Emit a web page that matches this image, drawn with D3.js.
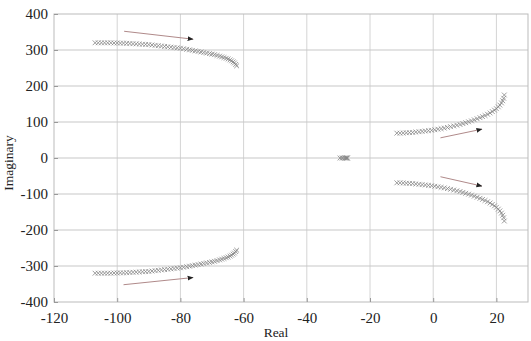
<!DOCTYPE html>
<html>
<head>
<meta charset="utf-8">
<script src="https://cdn.jsdelivr.net/npm/d3@7"></script>
<style>
  body { margin: 0; background: #fff; }
  text { font-family: "Liberation Serif", "DejaVu Serif", serif; fill: #333; }
</style>
</head>
<body>
<svg id="svg" width="531" height="341"></svg>
<script>
// root locus branches
var leftReal = [-107, -106, -105, -104, -103, -102, -101, -100, -99, -98, -97, -96, -95, -94, -93, -92,
  -91, -90, -89, -88, -87, -86, -85, -84, -83, -82, -81, -80, -79, -78, -77.1, -76.2, -75.3, -74.4,
  -73.5, -72.6, -71.7, -70.8, -70, -69.2, -68.4, -67.6, -66.9, -66.2, -65.5, -64.9, -64.3, -63.8,
  -63.3, -62.9, -62.5, -62.2]
var leftImag = [320, 320, 320, 320, 320, 320, 319.5, 319.5, 319, 319, 318.5, 318, 317.5, 317, 316.5, 316,
  315.5, 315, 314, 313, 312, 311, 310, 309, 308, 307, 306, 305, 303.5, 302, 300.5, 299, 297.5, 296,
  294.5, 293, 291.5, 290, 288.5, 287, 285, 283, 281, 279, 277, 275, 272.5, 270, 267, 264, 260, 256]

var rightReal = [-11.5, -10.5, -9.5, -8.5, -7.5, -6.5, -5.5, -4.5, -3.5, -2.5, -1.5, -0.5, 0.5, 1.5,
  2.5, 3.5, 4.5, 5.5, 6.5, 7.5, 8.5, 9.4, 10.3, 11.2, 12.1, 13, 13.9, 14.8, 15.6, 16.4, 17.2, 18,
  18.7, 19.4, 20, 20.6, 21.1, 21.6, 22, 22.3, 22.5]
var rightImag = [69, 69, 69.5, 70, 70.5, 71, 72, 73, 74, 75, 76, 77, 78.5, 80, 81.5, 83, 85, 87, 89,
  91, 93, 95.5, 98, 100.5, 103, 106, 109, 112, 115, 118, 121.5, 125, 129, 133, 137, 142, 147, 153,
  159, 166, 175]

var poleReal = [-29.5, -28.9, -28.4, -28, -27.7, -27.5, -27.3, -27.1]
var poleImag = [0, 0, 0, 0, 0, 0, 0, 0]

// arrows: [x0, y0, x1, y1]
var arrows = [
  [-97.8, 352, -76, 330],
  [-98, -352, -76, -332],
  [2.3, 56, 15.4, 80],
  [2.3, -52, 15.4, -78]
]

var xTicks = [-120, -100, -80, -60, -40, -20, 0, 20]
var yTicks = [-400, -300, -200, -100, 0, 100, 200, 300, 400]

var svg = d3.select('#svg')
var pLeft = 54, pRight = 528, pTop = 14, pBottom = 302

var x = d3.scaleLinear().domain([-120, 30]).range([pLeft, pRight])
var y = d3.scaleLinear().domain([-400, 400]).range([pBottom, pTop])

svg.append('defs').append('marker')
  .attr('id', 'head')
  .attr('viewBox', '0 0 10 10')
  .attr('refX', 9).attr('refY', 5)
  .attr('markerWidth', 6).attr('markerHeight', 6)
  .attr('orient', 'auto')
  .append('path').attr('d', 'M0,1 L10,5 L0,9 Z').style('fill', '#222')

// grid
svg.append('g').selectAll('line').data(xTicks.slice(1)).enter().append('line')
  .attr('x1', x).attr('x2', x).attr('y1', pTop).attr('y2', pBottom)
  .style('stroke', '#d4d4d4').style('stroke-width', 1)
svg.append('g').selectAll('line').data(yTicks.slice(1, -1)).enter().append('line')
  .attr('y1', y).attr('y2', y).attr('x1', pLeft).attr('x2', pRight)
  .style('stroke', '#c8c8c8').style('stroke-width', 1.2)

// box
svg.append('rect')
  .attr('x', pLeft).attr('y', pTop).attr('width', pRight - pLeft).attr('height', pBottom - pTop)
  .style('fill', 'none').style('stroke', '#bbb').style('stroke-width', 1)

var fmt = function(d) { return String(d) }
var xAxis = d3.axisBottom(x).tickValues(xTicks).tickFormat(fmt).tickSize(-4).tickPadding(10)
var gx = svg.append('g').attr('transform', 'translate(0,' + pBottom + ')').call(xAxis)
var yAxis = d3.axisLeft(y).tickValues(yTicks).tickFormat(fmt).tickSize(-4).tickPadding(10)
var gy = svg.append('g').attr('transform', 'translate(' + pLeft + ',0)').call(yAxis)

;[gx, gy].forEach(function(g) {
  g.attr('font-family', null)
  g.select('.domain').remove()
  g.selectAll('.tick line').style('stroke', '#999')
  g.selectAll('.tick text').style('font-size', '15px').style('fill', '#222')
    .style('font-family', '"Liberation Serif", serif')
})
gy.selectAll('.tick text').attr('x', -6)

svg.append('text').attr('x', 276).attr('y', 337).attr('text-anchor', 'middle')
  .style('font-size', '13.5px').style('fill', '#222').text('Real')
svg.append('text').attr('transform', 'translate(13,163) rotate(-90)').attr('text-anchor', 'middle')
  .style('font-size', '13.5px').style('fill', '#222').text('Imaginary')

// crosses
function cross(xs, ys, sign) {
  var g = svg.append('g')
  for (var i = 0; i < xs.length; i++) {
    var cx = x(xs[i]), cy = y(sign * ys[i]), s = 2.4
    g.append('path')
      .attr('d', 'M' + (cx - s) + ',' + (cy - s) + 'L' + (cx + s) + ',' + (cy + s) +
        'M' + (cx - s) + ',' + (cy + s) + 'L' + (cx + s) + ',' + (cy - s))
      .style('stroke', '#858585').style('stroke-width', 0.8).style('fill', 'none')
  }
}
cross(leftReal, leftImag, 1)
cross(leftReal, leftImag, -1)
cross(rightReal, rightImag, 1)
cross(rightReal, rightImag, -1)
cross(poleReal, poleImag, 1)

svg.append('g').selectAll('line').data(arrows).enter().append('line')
  .attr('x1', function(d) { return x(d[0]) })
  .attr('y1', function(d) { return y(d[1]) })
  .attr('x2', function(d) { return x(d[2]) })
  .attr('y2', function(d) { return y(d[3]) })
  .style('stroke', '#b08a8a').style('stroke-width', 1)
  .attr('marker-end', 'url(#head)')
</script>
</body>
</html>
